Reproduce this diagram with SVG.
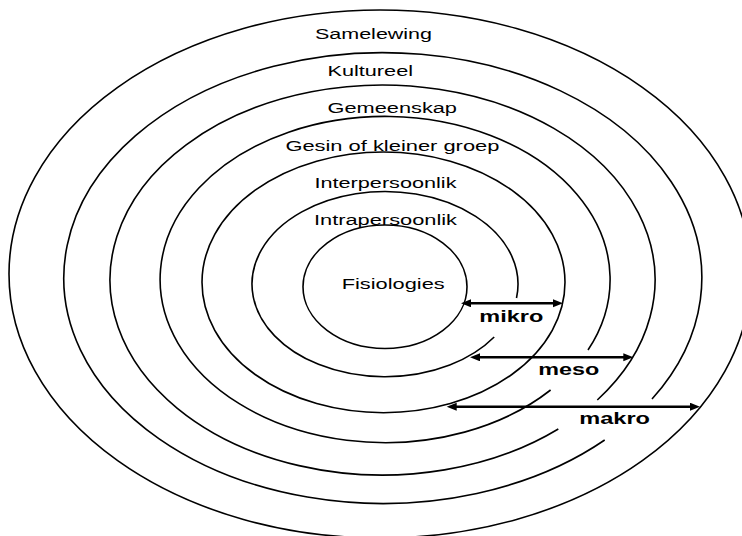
<svg xmlns="http://www.w3.org/2000/svg" width="742" height="536" viewBox="0 0 742 536">
  <defs>
    <style>
      .ring { fill: none; stroke: #000; stroke-width: 1.6; }
      .lbl { font-family: "Liberation Sans", Arial, sans-serif; font-size: 15.5px; fill: #000; }
      .blbl { font-family: "Liberation Sans", Arial, sans-serif; font-size: 16.5px; font-weight: bold; fill: #000; }
      .arrow { stroke: #000; stroke-width: 2.5; fill: none; marker-start: url(#head); marker-end: url(#head); }
    </style>
    <marker id="head" markerUnits="userSpaceOnUse" markerWidth="11" markerHeight="9" refX="5" refY="4" orient="auto-start-reverse" viewBox="0 0 11 9">
      <path d="M0,0 L10,4 L0,8 z" fill="#000"/>
    </marker>
  </defs>
  <rect width="742" height="536" fill="#fff"/>

  <g id="samelewing">
    <ellipse class="ring" cx="380" cy="274" rx="371" ry="264"/>
    <text class="lbl" x="315" y="39.3" textLength="117" lengthAdjust="spacingAndGlyphs">Samelewing</text>
  </g>
  <g id="kultureel">
    <path class="ring" d="M 604.7 440 A 319 225.4 0 1 1 652 399"/>
    <text class="lbl" x="327.5" y="76" textLength="85.5" lengthAdjust="spacingAndGlyphs">Kultureel</text>
  </g>
  <g id="gemeenskap">
    <path class="ring" d="M 558.3 429 A 272.5 195 0 1 1 597.3 400"/>
    <text class="lbl" x="327.5" y="113.3" textLength="129.5" lengthAdjust="spacingAndGlyphs">Gemeenskap</text>
  </g>
  <g id="gesin">
    <path class="ring" d="M 550.6 390 A 225 163.1 0 1 1 588 350"/>
    <text class="lbl" x="285.4" y="150.5" textLength="214" lengthAdjust="spacingAndGlyphs">Gesin of kleiner groep</text>
  </g>
  <g id="interpersoonlik">
    <ellipse class="ring" cx="383.5" cy="282.35" rx="181.5" ry="130.35"/>
    <text class="lbl" x="314.5" y="187.8" textLength="142" lengthAdjust="spacingAndGlyphs">Interpersoonlik</text>
  </g>
  <g id="intrapersoonlik">
    <path class="ring" d="M 494.2 337 A 133 92.6 0 1 1 516.5 298"/>
    <text class="lbl" x="314" y="224.8" textLength="143" lengthAdjust="spacingAndGlyphs">Intrapersoonlik</text>
  </g>
  <g id="fisiologies">
    <ellipse class="ring" cx="385" cy="286.75" rx="82" ry="61.75"/>
    <text class="lbl" x="341.7" y="289.3" textLength="103" lengthAdjust="spacingAndGlyphs">Fisiologies</text>
  </g>

  <g id="connectors">
    <line class="arrow" x1="466" y1="303.3" x2="558" y2="303.3"/>
    <text class="blbl" x="479.3" y="321.7" textLength="64" lengthAdjust="spacingAndGlyphs">mikro</text>
    <line class="arrow" x1="475" y1="357.3" x2="628.3" y2="357.3"/>
    <text class="blbl" x="538.3" y="375" textLength="61" lengthAdjust="spacingAndGlyphs">meso</text>
    <line class="arrow" x1="451.7" y1="406.7" x2="695" y2="406.7"/>
    <text class="blbl" x="579.3" y="424" textLength="70.7" lengthAdjust="spacingAndGlyphs">makro</text>
  </g>
</svg>
